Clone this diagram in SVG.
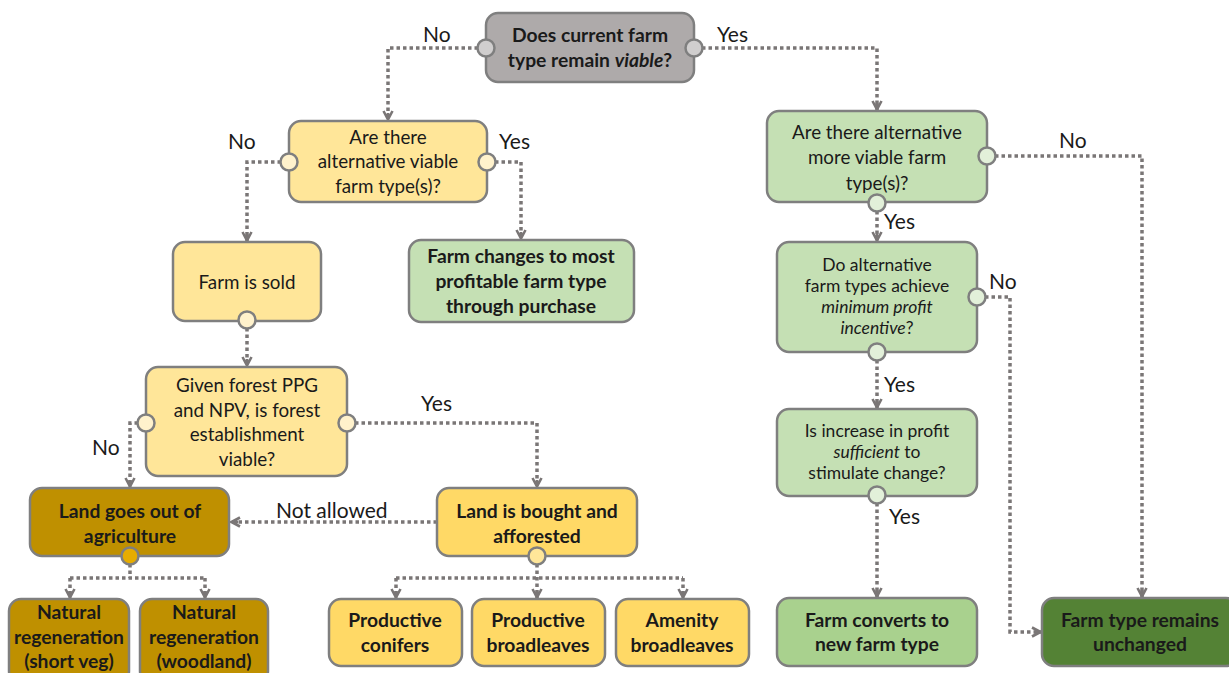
<svg xmlns="http://www.w3.org/2000/svg" width="1229" height="673" viewBox="0 0 1229 673">
<defs>
<style>
.n{stroke:#7f7f7f;stroke-width:2.5}
.t{font-family:Lato,"Liberation Sans",sans-serif;font-size:18.8px;fill:#1a1a1a;text-anchor:middle}
.s{font-size:17.5px}
.b{font-weight:bold;font-size:19.3px}
.lbl{font-family:Lato,"Liberation Sans",sans-serif;font-size:21px;fill:#1a1a1a}
.c{fill:none;stroke:#7a7676;stroke-width:3.5;stroke-dasharray:3.5 3}
.p{stroke:#7f7f7f;stroke-width:2.5}
.gray{fill:#aeaaaa}.ly{fill:#ffe699}.gy{fill:#ffd966}.lg{fill:#c5e0b4}.mg{fill:#a9d18e}.dg{fill:#548235}.dk{fill:#bf9000}
</style>
<marker id="ar" viewBox="0 0 12 12" refX="11" refY="6" markerWidth="12" markerHeight="12" markerUnits="userSpaceOnUse" orient="auto">
<path d="M2,1.5 L10.5,6 L2,10.5 M4,6 L10.5,6" fill="none" stroke="#7a7676" stroke-width="2.6"/>
</marker>
</defs>
<rect width="1229" height="673" fill="#fff"/>
<g id="connectors">
<path class="c" d="M478,48 H388 V120" marker-end="url(#ar)"/>
<path class="c" d="M702,48 H877 V110" marker-end="url(#ar)"/>
<path class="c" d="M281,162 H247 V241" marker-end="url(#ar)"/>
<path class="c" d="M495,162 H521 V239" marker-end="url(#ar)"/>
<path class="c" d="M995,156 H1142 V597" marker-end="url(#ar)"/>
<path class="c" d="M877,211 V241" marker-end="url(#ar)"/>
<path class="c" d="M985,297 H1010 V632 H1041" marker-end="url(#ar)"/>
<path class="c" d="M877,360 V408" marker-end="url(#ar)"/>
<path class="c" d="M877,503 V597" marker-end="url(#ar)"/>
<path class="c" d="M247,328 V366" marker-end="url(#ar)"/>
<path class="c" d="M138,423 H130 V487" marker-end="url(#ar)"/>
<path class="c" d="M355,423 H537 V487" marker-end="url(#ar)"/>
<path class="c" d="M437,522 H231" marker-end="url(#ar)"/>
<path class="c" d="M130,564 V578"/>
<path class="c" d="M70,578 H205"/>
<path class="c" d="M70,578 V598" marker-end="url(#ar)"/>
<path class="c" d="M205,578 V598" marker-end="url(#ar)"/>
<path class="c" d="M537,564 V598" marker-end="url(#ar)"/>
<path class="c" d="M396,578 H683"/>
<path class="c" d="M396,578 V598" marker-end="url(#ar)"/>
<path class="c" d="M683,578 V598" marker-end="url(#ar)"/>
<text class="lbl" x="423" y="42">No</text>
<text class="lbl" x="717" y="42">Yes</text>
<text class="lbl" x="228" y="149">No</text>
<text class="lbl" x="499" y="149">Yes</text>
<text class="lbl" x="1059" y="148">No</text>
<text class="lbl" x="884" y="229">Yes</text>
<text class="lbl" x="989" y="289">No</text>
<text class="lbl" x="884" y="392">Yes</text>
<text class="lbl" x="889" y="524">Yes</text>
<text class="lbl" x="92" y="455">No</text>
<text class="lbl" x="421" y="411">Yes</text>
<text class="lbl" x="276" y="518">Not allowed</text>
</g>
<g id="q1">
<rect class="n gray" x="486" y="13" width="208" height="69" rx="12"/>
<circle class="p" cx="486" cy="48" r="8.5" fill="#d0cece"/>
<circle class="p" cx="694" cy="48" r="8.5" fill="#d0cece"/>
<text class="t b" x="590" y="42">Does current farm</text>
<text class="t b" x="590" y="67">type remain <tspan font-style="italic">viable</tspan>?</text>
</g>
<g id="q2">
<rect class="n ly" x="289" y="121" width="198" height="81" rx="12"/>
<circle class="p" cx="289" cy="162" r="8.5" fill="#fff2cc"/>
<circle class="p" cx="487" cy="162" r="8.5" fill="#fff2cc"/>
<text class="t" x="388" y="144">Are there</text>
<text class="t" x="388" y="168">alternative viable</text>
<text class="t" x="388" y="193">farm type(s)?</text>
</g>
<g id="q3">
<rect class="n lg" x="767" y="111" width="220" height="91" rx="12"/>
<circle class="p" cx="987" cy="156" r="8.5" fill="#e2f0d9"/>
<circle class="p" cx="877" cy="203" r="8.5" fill="#e2f0d9"/>
<text class="t" x="877" y="139">Are there alternative</text>
<text class="t" x="877" y="164">more viable farm</text>
<text class="t" x="877" y="190">type(s)?</text>
</g>
<g id="purchase">
<rect class="n lg" x="409" y="240" width="225" height="82" rx="12"/>
<text class="t b" x="521" y="263">Farm changes to most</text>
<text class="t b" x="521" y="288">profitable farm type</text>
<text class="t b" x="521" y="313">through purchase</text>
</g>
<g id="sold">
<rect class="n ly" x="173" y="242" width="148" height="79" rx="12"/>
<circle class="p" cx="247" cy="320" r="8.5" fill="#fff2cc"/>
<text class="t" x="247" y="289">Farm is sold</text>
</g>
<g id="q4">
<rect class="n lg" x="777" y="242" width="200" height="110" rx="12"/>
<circle class="p" cx="977" cy="297" r="8.5" fill="#e2f0d9"/>
<circle class="p" cx="877" cy="352" r="8.5" fill="#e2f0d9"/>
<text class="t s" x="877" y="271">Do alternative</text>
<text class="t s" x="877" y="292">farm types achieve</text>
<text class="t s" x="877" y="313" font-style="italic">minimum profit</text>
<text class="t s" x="877" y="334"><tspan font-style="italic">incentive</tspan>?</text>
</g>
<g id="q5">
<rect class="n lg" x="777" y="409" width="200" height="87" rx="12"/>
<circle class="p" cx="877" cy="495" r="8.5" fill="#e2f0d9"/>
<text class="t s" x="877" y="437">Is increase in profit</text>
<text class="t s" x="877" y="458"><tspan font-style="italic">sufficient</tspan> to</text>
<text class="t s" x="877" y="479">stimulate change?</text>
</g>
<g id="forest">
<rect class="n ly" x="146" y="367" width="201" height="109" rx="12"/>
<circle class="p" cx="146" cy="423" r="8.5" fill="#fff2cc"/>
<circle class="p" cx="347" cy="423" r="8.5" fill="#fff2cc"/>
<text class="t" x="247" y="392">Given forest PPG</text>
<text class="t" x="247" y="417">and NPV, is forest</text>
<text class="t" x="247" y="441">establishment</text>
<text class="t" x="247" y="466">viable?</text>
</g>
<g id="outag">
<rect class="n dk" x="30" y="488" width="199" height="68" rx="12"/>
<circle class="p" cx="130" cy="556" r="8.5" fill="#e6ac00"/>
<text class="t b" x="130" y="518">Land goes out of</text>
<text class="t b" x="130" y="543">agriculture</text>
</g>
<g id="afforested">
<rect class="n gy" x="437" y="488" width="200" height="68" rx="12"/>
<circle class="p" cx="537" cy="556" r="8.5" fill="#ffe699"/>
<text class="t b" x="537" y="518">Land is bought and</text>
<text class="t b" x="537" y="543">afforested</text>
</g>
<g id="nrshort">
<rect class="n dk" x="9" y="599" width="120" height="84" rx="12"/>
<text class="t b" x="69" y="619">Natural</text>
<text class="t b" x="69" y="644">regeneration</text>
<text class="t b" x="69" y="668">(short veg)</text>
</g>
<g id="nrwood">
<rect class="n dk" x="140" y="599" width="128" height="84" rx="12"/>
<text class="t b" x="204" y="619">Natural</text>
<text class="t b" x="204" y="644">regeneration</text>
<text class="t b" x="204" y="668">(woodland)</text>
</g>
<g id="conifers">
<rect class="n gy" x="329" y="599" width="133" height="67" rx="12"/>
<text class="t b" x="395" y="627">Productive</text>
<text class="t b" x="395" y="652">conifers</text>
</g>
<g id="pbroad">
<rect class="n gy" x="472" y="599" width="133" height="67" rx="12"/>
<text class="t b" x="538" y="627">Productive</text>
<text class="t b" x="538" y="652">broadleaves</text>
</g>
<g id="abroad">
<rect class="n gy" x="616" y="599" width="133" height="67" rx="12"/>
<text class="t b" x="682" y="627">Amenity</text>
<text class="t b" x="682" y="652">broadleaves</text>
</g>
<g id="converts">
<rect class="n mg" x="777" y="598" width="200" height="68" rx="12"/>
<text class="t b" x="877" y="627">Farm converts to</text>
<text class="t b" x="877" y="651">new farm type</text>
</g>
<g id="unchanged">
<rect class="n dg" x="1042" y="598" width="196" height="68" rx="12"/>
<text class="t b" x="1140" y="627">Farm type remains</text>
<text class="t b" x="1140" y="651">unchanged</text>
</g>
</svg>
